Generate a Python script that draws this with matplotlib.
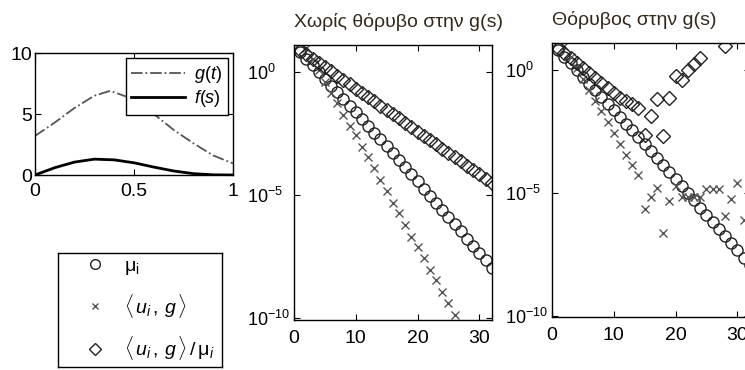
import matplotlib
matplotlib.use("Agg")
import matplotlib.pyplot as plt
from matplotlib.lines import Line2D
import numpy as np

plt.rcParams['font.family'] = ['Liberation Sans', 'DejaVu Sans']
plt.rcParams['mathtext.fontset'] = 'custom'
plt.rcParams['mathtext.rm'] = 'Liberation Sans'
plt.rcParams['mathtext.it'] = 'Liberation Sans:italic'
plt.rcParams['mathtext.bf'] = 'Liberation Sans:bold'
plt.rcParams['axes.linewidth'] = 1.0

# left top panel: g(t) and f(s)
t_pts = [0, 0.1, 0.2, 0.3, 0.38, 0.5, 0.6, 0.7, 0.8, 0.9, 1.0]
g_vals = [3.2, 4.3, 5.5, 6.5, 6.9, 6.2, 5.0, 3.7, 2.6, 1.6, 0.95]
s_pts = [0, 0.1, 0.2, 0.3, 0.4, 0.5, 0.6, 0.7, 0.8, 0.9, 1.0]
f_vals = [0, 0.6, 1.06, 1.3, 1.24, 1.0, 0.65, 0.33, 0.11, 0.015, 0]

# exponents (log10), index i = 1..32
mu_exp = [0.8, 0.52, 0.25, -0.02, -0.3, -0.57, -0.84, -1.11, -1.38, -1.65,
          -1.92, -2.2, -2.47, -2.75, -3.03, -3.31, -3.6, -3.88, -4.17, -4.45,
          -4.74, -5.03, -5.32, -5.61, -5.9, -6.19, -6.48, -6.77, -7.06, -7.35,
          -7.65, -7.95]

# no noise
cross_exp_a = [1.35, 0.95, 0.5, 0.05, -0.4, -0.85, -1.28, -1.75, -2.2, -2.57,
               -3.06, -3.47, -3.92, -4.39, -4.82, -5.31, -5.74, -6.21, -6.69, -7.09,
               -7.56, -8.04, -8.44, -8.92, -9.39, -9.86]
diam_exp_a = [0.88, 0.71, 0.53, 0.36, 0.18, 0.01, -0.16, -0.34, -0.51, -0.69,
              -0.86, -1.03, -1.21, -1.38, -1.56, -1.73, -1.90, -2.08, -2.25, -2.43,
              -2.60, -2.77, -2.95, -3.12, -3.30, -3.47, -3.64, -3.82, -3.99, -4.17,
              -4.34, -4.52]

# with noise
cross_exp_b = [1.35, 0.95, 0.5, 0.05, -0.4, -0.85, -1.28, -1.69, -2.12, -2.57,
               -3.04, -3.47, -3.88, -4.28, -5.67, -5.17, -4.82, -6.66, -5.34, -4.72,
               -5.2, -5.18, -5.2, -5.2, -4.86, -4.86, -4.86, -5.94, -5.27, -4.63,
               -6.12, -5.06]
diam_exp_b = [0.88, 0.68, 0.47, 0.27, 0.07, -0.14, -0.34, -0.54, -0.75, -0.95,
              -1.15, -1.28, -1.41, -1.55, -2.64, -1.89, -1.21, -2.7, -1.17, -0.27,
              -0.44, 0.0, 0.23, 0.45, 1.4, 1.35, 1.62, 0.95, 1.8, 2.7,
              1.5, 2.9]

titles = ['Χωρίς θόρυβο στην g(s)', 'Θόρυβος στην g(s)']

W, H = 745, 370
fig = plt.figure(figsize=(W / 100, H / 100), dpi=100)


def box(l, t, r, b):
    return [l / W, (H - b) / H, (r - l) / W, (b - t) / H]


tick_kw = dict(direction='in', top=True, right=True, length=4, width=0.8,
               labelsize=14)

# top left
ax0 = fig.add_axes(box(35, 53, 233, 175))
ax0.plot(t_pts, g_vals, color='#555555', linestyle='-.', lw=1.3, label='$g(t)$')
ax0.plot(s_pts, f_vals, color='black', lw=2.0, label='$f(s)$')
ax0.set_xlim(0, 1)
ax0.set_ylim(0, 10)
ax0.set_xticks([0, 0.5, 1])
ax0.set_xticklabels(['0', '0.5', '1'])
ax0.set_yticks([0, 5, 10])
ax0.tick_params(**tick_kw)
ax0.tick_params(axis='y', pad=2)
ax0.tick_params(axis='x', pad=6)
leg = ax0.legend(loc='upper right', fontsize=13, handlelength=3.0,
                 fancybox=False, framealpha=1, edgecolor='black',
                 borderpad=0.3, labelspacing=0.2, borderaxespad=0.3,
                 handletextpad=0.5)
leg.get_frame().set_linewidth(1.0)

# legend box bottom left
axl = fig.add_axes(box(58, 253, 222, 367))
axl.set_xticks([])
axl.set_yticks([])
handles = [
    Line2D([], [], ls='none', marker='o', mfc='none', mec='#222222', ms=7),
    Line2D([], [], ls='none', marker='x', color='#555555', ms=5),
    Line2D([], [], ls='none', marker='D', mfc='none', mec='#222222', ms=6),
]
labels = [r'μ$_{\rm i}$', r'$\langle\, u_i\,,\, g \,\rangle$',
          r'$\langle\, u_i\,,\, g \,\rangle\, /\,$μ$_i$']
axl.legend(handles, labels, loc='center left', frameon=False, fontsize=14,
           handlelength=1.0, handletextpad=1.0, labelspacing=0.75,
           borderaxespad=1.0)

idx = np.arange(1, 33)
panels = [
    (box(294, 45, 491.7, 320), cross_exp_a, diam_exp_a, titles[0]),
    (box(552, 43, 749.7, 317.3), cross_exp_b, diam_exp_b, titles[1]),
]
for pos, cexp, dexp, title in panels:
    ax = fig.add_axes(pos)
    ax.set_yscale('log')
    ax.plot(idx, 10.0 ** np.array(mu_exp), ls='none', marker='o', mfc='none',
            mec='#222222', ms=8, mew=1.0)
    ax.plot(idx[:len(cexp)], 10.0 ** np.array(cexp), ls='none', marker='x',
            color='#555555', ms=6, mew=1.0)
    ax.plot(idx, 10.0 ** np.array(dexp), ls='none', marker='D', mfc='none',
            mec='#222222', ms=7, mew=1.0)
    ax.set_xlim(0, 32)
    ax.set_ylim(10 ** -10.07, 10 ** 1.08)
    ax.set_xticks([0, 10, 20, 30])
    ax.set_yticks([1e-10, 1e-5, 1e0])
    ax.minorticks_off()
    ax.tick_params(**tick_kw)
    ax.tick_params(axis='x', pad=7)
    ax.tick_params(axis='y', pad=34, labelsize=13)
    for lab in ax.get_yticklabels():
        lab.set_horizontalalignment('left')
    ax.set_title(title, loc='left', fontsize=14, color='#33281c', pad=13)

fig.savefig('out.png', dpi=100)
